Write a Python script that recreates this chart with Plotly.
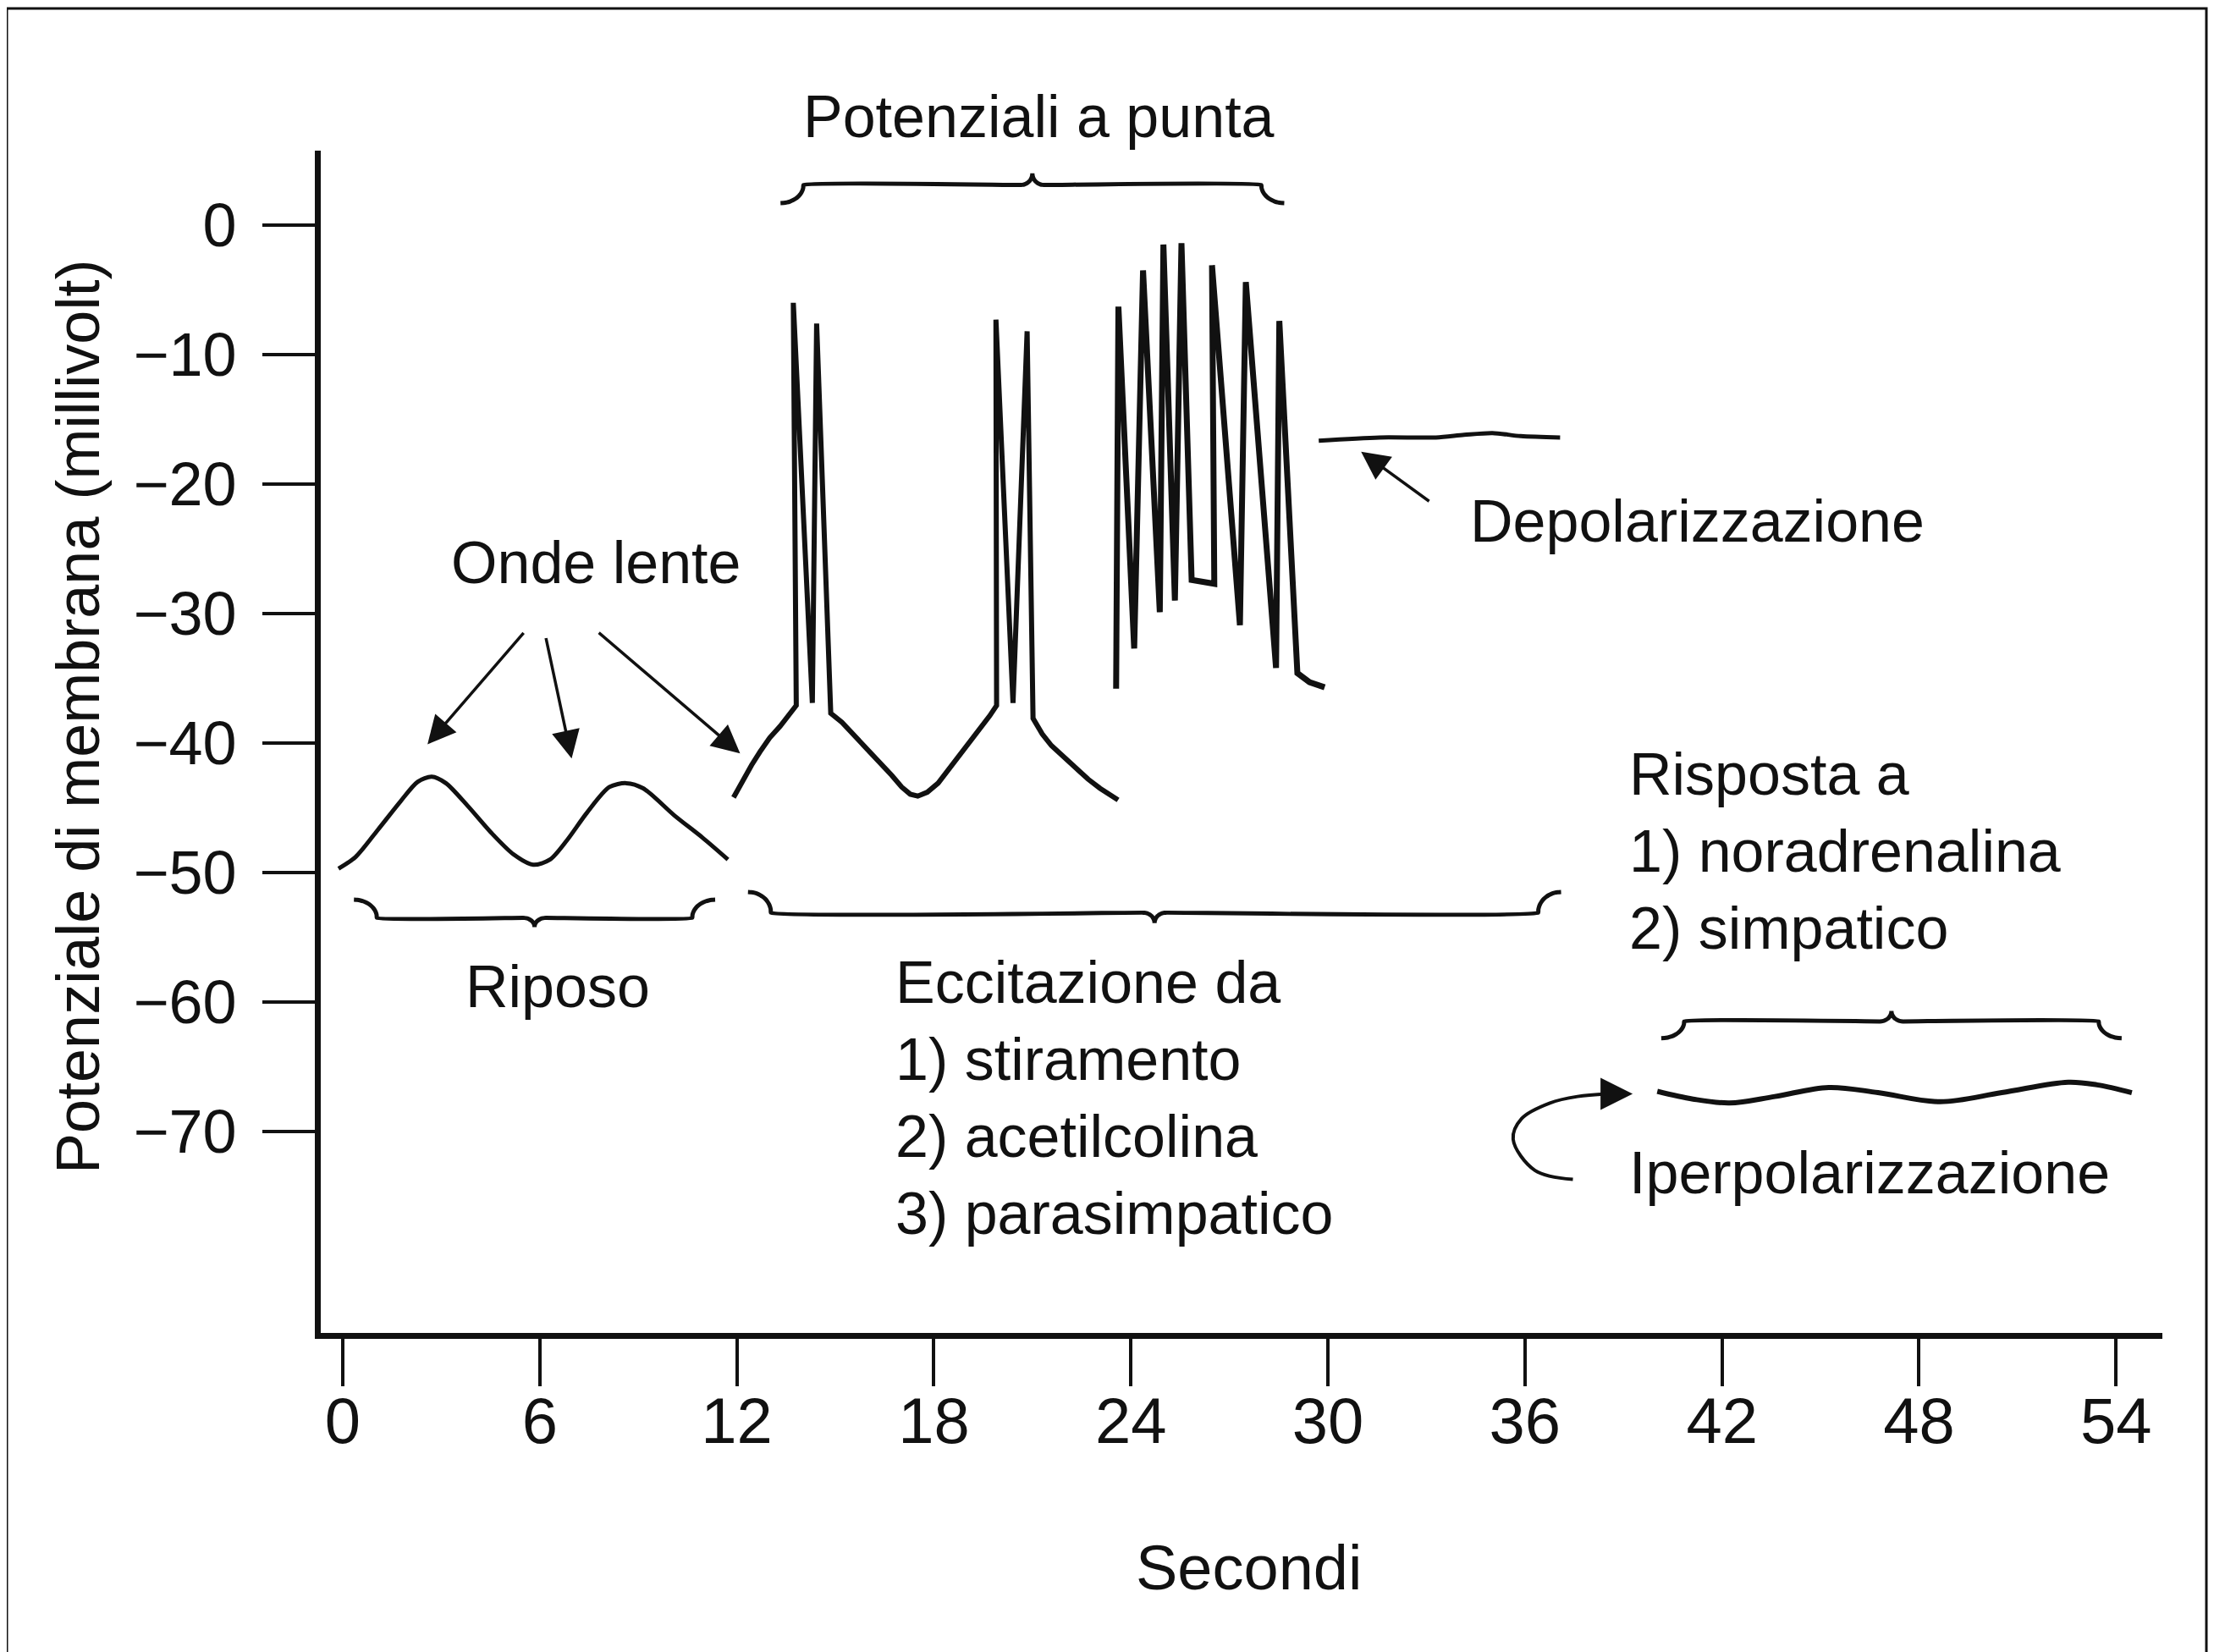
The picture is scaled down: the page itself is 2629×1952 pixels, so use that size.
import numpy as np
import plotly.graph_objects as go

# ---------------- data (seconds, millivolt) ----------------
x_tick_vals = [0, 6, 12, 18, 24, 30, 36, 42, 48, 54]
y_tick_vals = [0, -10, -20, -30, -40, -50, -60, -70]

# Riposo: slow waves
rest_t = [-0.13, 0.39, 1.07, 1.76, 2.28, 2.71, 3.14, 3.82, 4.51, 5.20, 5.80, 6.31,
          6.83, 7.43, 8.12, 8.63, 9.15, 10.10, 10.95, 11.73]
rest_v = [-49.7, -48.8, -46.7, -44.5, -43.0, -42.6, -43.1, -44.9, -46.9, -48.6, -49.4, -49.0,
          -47.5, -45.4, -43.4, -43.1, -43.5, -45.6, -47.3, -49.0]

# Eccitazione: slow waves with spike pairs
exc_t = [11.90, 12.05, 12.21, 12.45, 12.70, 13.00, 13.32, 13.55, 13.81,
         13.72, 14.30, 14.43, 14.86,
         15.20, 15.54, 16.00, 16.40, 16.72, 17.02, 17.28, 17.51, 17.80, 18.13, 18.50,
         18.87, 19.20, 19.48, 19.70, 19.91,
         19.89, 20.41, 20.84, 21.02,
         21.30, 21.58, 21.95, 22.32, 22.70, 23.06, 23.35, 23.61]
exc_v = [-44.2, -43.5, -42.8, -41.7, -40.7, -39.6, -38.7, -37.9, -37.1,
         -6.0, -36.9, -7.6, -37.7,
         -38.4, -39.3, -40.5, -41.6, -42.5, -43.4, -43.95, -44.1, -43.8, -43.1, -41.9,
         -40.7, -39.6, -38.7, -37.9, -37.1,
         -7.3, -36.9, -8.2, -38.1,
         -39.3, -40.2, -41.1, -41.9, -42.8, -43.5, -44.0, -44.4]

# Burst of spike potentials
burst_t = [23.55, 23.62, 24.10, 24.37, 24.88, 24.99, 25.34, 25.54, 25.85, 26.54, 26.47,
           27.32, 27.50, 28.42, 28.52, 29.07, 29.44, 29.90]
burst_v = [-35.8, -6.3, -32.7, -3.5, -29.9, -1.5, -29.0, -1.4, -27.4, -27.7, -3.1,
           -30.9, -4.4, -34.2, -7.4, -34.6, -35.3, -35.7]

# Depolarizzazione
depol_t = [29.72, 31.57, 33.29, 34.15, 35.01, 35.87, 37.07]
depol_v = [-16.65, -16.4, -16.4, -16.2, -16.06, -16.3, -16.4]

# Iperpolarizzazione
hyper_t = [40.03, 41.12, 42.23, 43.61, 45.25, 46.75, 48.64, 50.52, 52.54, 53.42, 54.48]
hyper_v = [-66.9, -67.5, -67.8, -67.3, -66.6, -67.0, -67.7, -67.0, -66.2, -66.4, -67.0]

# ---------------- styling ----------------
FONT = "Liberation Sans, Arial, sans-serif"
INK = "#111111"
TXT = 70

W, H = 2629, 1952
OFF = 8  # the page body adds an 8px margin; compensate
L, R, T, B = 379 - OFF, 2555 - OFF, 178 - OFF, 1575 - OFF

def px_to_paper(px, py):
    px -= OFF
    py -= OFF
    return (px - L) / (R - L), (B - py) / (B - T)

fig = go.Figure()

def add_line(t, v, width=5, shape="linear", smoothing=None):
    line = dict(color=INK, width=width, shape=shape)
    if smoothing is not None:
        line["smoothing"] = smoothing
    fig.add_trace(go.Scatter(x=t, y=v, mode="lines", line=line,
                             hoverinfo="skip", showlegend=False))

add_line(rest_t, rest_v, 5, "spline", 0.8)
add_line(exc_t, exc_v, 6)
add_line(burst_t, burst_v, 7)
add_line(depol_t, depol_v, 5, "spline", 0.8)
add_line(hyper_t, hyper_v, 6, "spline", 1.0)


# ---------------- curly braces (decorations) ----------------
def brace(x0, x1, y, h, c, dx, cw):
    """h: offset of the curled ends (sign = direction), c: cusp depth (opposite)."""
    xm = (x0 + x1) / 2.0
    t = np.linspace(0, np.pi / 2, 12)
    xs, ys = [], []
    xs += list(x0 + dx * np.sin(t)); ys += list(y + h * np.cos(t))
    xs += list(xm - cw + cw * np.sin(t)); ys += list(y - c + c * np.cos(t))
    xs += list(xm + cw - cw * np.sin(t[::-1])); ys += list(y - c + c * np.cos(t[::-1]))
    xs += list(x1 - dx * np.sin(t[::-1])); ys += list(y + h * np.cos(t[::-1]))
    return xs, ys

for (x0, x1, y, h, c) in [
    (13.33, 28.67, 3.1, -1.4, -0.9),     # Potenziali a punta
    (0.34, 11.34, -53.5, 1.4, 0.7),     # Riposo
    (12.34, 37.10, -53.1, 1.6, 0.8),    # Eccitazione
    (40.15, 54.17, -61.5, -1.3, -0.8),  # Risposta
]:
    bx, by = brace(x0, x1, y, h, c, 0.7, 0.35)
    fig.add_trace(go.Scatter(x=bx, y=by, mode="lines",
                             line=dict(color=INK, width=5, shape="spline", smoothing=0.5),
                             hoverinfo="skip", showlegend=False))

# curved arrow for Iperpolarizzazione
fig.add_trace(go.Scatter(x=[37.46, 36.3, 35.64, 35.9, 36.76, 37.6, 38.5],
                         y=[-73.7, -73.0, -70.6, -69.0, -67.8, -67.3, -67.1],
                         mode="lines",
                         line=dict(color=INK, width=4, shape="spline", smoothing=1.0),
                         hoverinfo="skip", showlegend=False))

annotations = []

def arrow(tx, ty, hx, hy, width=3.5, size=1.9):
    annotations.append(dict(x=hx, y=hy, ax=tx, ay=ty, xref="x", yref="y",
                            axref="x", ayref="y", text="", showarrow=True,
                            arrowhead=2, arrowsize=size, arrowwidth=width,
                            arrowcolor=INK))

arrow(5.54, -31.4, 2.58, -40.1)
arrow(6.18, -31.8, 6.97, -41.2)
arrow(7.76, -31.4, 12.10, -40.8)
arrow(33.12, -21.4, 31.01, -17.5)
arrow(38.3, -67.1, 39.28, -67.1, width=4)

def label(x, y, text, xanchor="center", size=TXT, align="left"):
    annotations.append(dict(x=x, y=y, xref="x", yref="y", text=text, showarrow=False,
                            xanchor=xanchor, yanchor="middle", align=align,
                            font=dict(family=FONT, size=size, color=INK)))

def plabel(px, py, text, size=TXT, angle=0):
    xp, yp = px_to_paper(px, py)
    annotations.append(dict(x=xp, y=yp, xref="paper", yref="paper", text=text,
                            showarrow=False, xanchor="center", yanchor="middle",
                            textangle=angle,
                            font=dict(family=FONT, size=size, color=INK)))

plabel(1227, 138, "Potenziali a punta")
label(7.71, -26.1, "Onde lente")
label(41.25, -22.9, "Depolarizzazione")
label(6.55, -58.8, "Riposo")
label(16.79, -67.4, "Eccitazione da<br>1) stiramento<br>2) acetilcolina<br>3) parasimpatico",
      xanchor="left")
label(39.13, -48.4, "Risposta a<br>1) noradrenalina<br>2) simpatico", xanchor="left")
label(39.13, -73.2, "Iperpolarizzazione", xanchor="left")

# axis titles
plabel(1475, 1853, "Secondi", size=74)
plabel(92, 847, "Potenziale di membrana (millivolt)", size=72, angle=-90)

# ---------------- layout ----------------
fx0, fy1 = px_to_paper(8, 10)
fx1, fy0 = px_to_paper(2607, 2000)

fig.update_layout(
    width=W, height=H,
    margin=dict(l=L, r=W - R, t=T, b=H - B, pad=0),
    paper_bgcolor="white", plot_bgcolor="white",
    showlegend=False,
    font=dict(family=FONT, color=INK),
    annotations=annotations,
    shapes=[dict(type="rect", xref="paper", yref="paper",
                 x0=fx0, x1=fx1, y0=fy0, y1=fy1,
                 line=dict(color=INK, width=3), fillcolor="rgba(0,0,0,0)", layer="below")],
    xaxis=dict(
        range=[-0.67, 55.41], showgrid=False, zeroline=False,
        showline=True, linecolor=INK, linewidth=7,
        ticks="outside", ticklen=56, tickwidth=4, tickcolor=INK,
        tickvals=x_tick_vals, ticktext=[str(v) for v in x_tick_vals],
        tickfont=dict(family=FONT, size=76, color=INK),
        ticklabelstandoff=-24,
    ),
    yaxis=dict(
        range=[-85.56, 5.75], showgrid=False, zeroline=False,
        showline=True, linecolor=INK, linewidth=7,
        ticks="outside", ticklen=62, tickwidth=4, tickcolor=INK,
        tickvals=y_tick_vals,
        tickfont=dict(family=FONT, size=72, color=INK),
        ticklabelstandoff=16,
    ),
)

fig.write_html("out.html")
